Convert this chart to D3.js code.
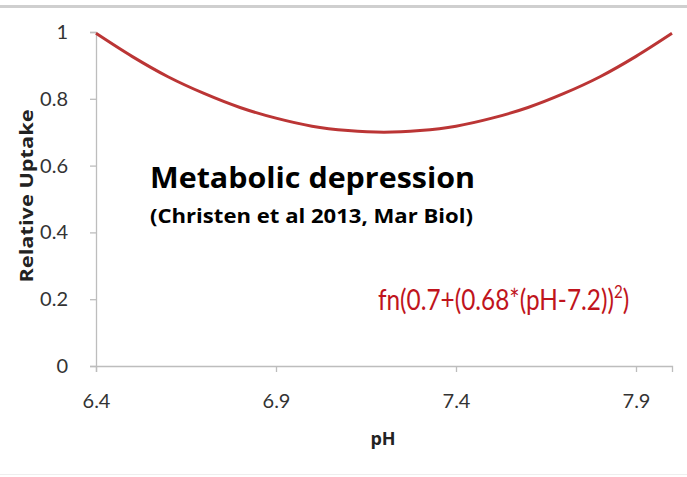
<!DOCTYPE html>
<html>
<head>
<meta charset="utf-8">
<script src="https://cdn.jsdelivr.net/npm/d3@7"></script>
<style>
    body { margin: 0; background: #fff; }
    svg { display: block; font-family: "Open Sans", Lato, sans-serif; }
</style>
</head>
<body>
<svg width="687" height="477"></svg>
<script>
// values
const phValues = [6.4, 6.5, 6.6, 6.7, 6.8, 6.9, 7.0, 7.1, 7.2, 7.3, 7.4, 7.5, 7.6, 7.7, 7.8, 7.9, 8.0];
const uptakeValues = [0.996, 0.927, 0.866, 0.816, 0.774, 0.742, 0.718, 0.705, 0.700, 0.705, 0.718, 0.742, 0.774, 0.816, 0.866, 0.927, 0.996];
const xTicks = [6.4, 6.9, 7.4, 7.9];
const yTicks = [0, 0.2, 0.4, 0.6, 0.8, 1];

const svg = d3.select("svg");

// frame lines
svg.append("rect").attr("x", 0).attr("y", 5).attr("width", 687).attr("height", 3).attr("fill", "#cfcfcf");
svg.append("rect").attr("x", 0).attr("y", 474).attr("width", 687).attr("height", 1).attr("fill", "#eeeeee");

const x = d3.scaleLinear().domain([6.4, 8.0]).range([96, 672]);
const y = d3.scaleLinear().domain([0, 1]).range([366, 32]);

const xAxis = svg.append("g")
    .attr("transform", `translate(0,${y(0)})`)
    .call(d3.axisBottom(x).tickValues(xTicks).tickFormat(d3.format(".1f")).tickSizeOuter(0).tickSize(6).tickPadding(22));

const yAxis = svg.append("g")
    .attr("transform", `translate(${x(6.4)},0)`)
    .call(d3.axisLeft(y).tickValues(yTicks).tickFormat(d => d).tickSizeOuter(0).tickSize(6).tickPadding(22));

[xAxis, yAxis].forEach(g => {
    g.select(".domain").attr("stroke", "#bdbdbd").attr("stroke-width", 1.3);
    g.selectAll(".tick line").attr("stroke", "#bdbdbd").attr("stroke-width", 1.3);
    g.selectAll(".tick text")
        .attr("fill", "#333")
        .style("font-family", "Lato, sans-serif")
        .style("font-size", "20px");
});

const line = d3.line()
    .x((d, i) => x(phValues[i]))
    .y(d => y(d))
    .curve(d3.curveCatmullRom);

svg.append("path")
    .datum(uptakeValues)
    .attr("d", line)
    .attr("fill", "none")
    .attr("stroke", "#bb3535")
    .attr("stroke-width", 3);

// axis titles
svg.append("text")
    .attr("x", 383).attr("y", 445)
    .attr("text-anchor", "middle")
    .attr("font-weight", "bold")
    .attr("font-size", 18)
    .attr("fill", "#222")
    .text("pH");

svg.append("text")
    .attr("transform", "translate(33,196) rotate(-90)")
    .attr("text-anchor", "middle")
    .attr("font-weight", "bold")
    .attr("font-size", 17)
    .attr("fill", "#222")
    .attr("textLength", 173)
    .attr("lengthAdjust", "spacingAndGlyphs")
    .text("Relative Uptake");

// annotations
svg.append("text")
    .attr("x", 150).attr("y", 188)
    .attr("font-weight", "bold")
    .attr("font-size", 28)
    .attr("fill", "#000")
    .attr("textLength", 325)
    .attr("lengthAdjust", "spacingAndGlyphs")
    .text("Metabolic depression");

svg.append("text")
    .attr("x", 150).attr("y", 223)
    .attr("font-weight", "bold")
    .attr("font-size", 19.5)
    .attr("fill", "#000")
    .attr("textLength", 323)
    .attr("lengthAdjust", "spacingAndGlyphs")
    .text("(Christen et al 2013, Mar Biol)");

const fn = svg.append("g")
    .attr("transform", "translate(378,310) scale(0.84,1)")
    .append("text")
    .style("font-family", "Lato, sans-serif")
    .attr("font-size", 29)
    .attr("fill", "#c0141c");
fn.append("tspan").text("fn(0.7+(0.68*(pH-7.2))");
fn.append("tspan").attr("dy", -12).attr("font-size", 18).text("2");
fn.append("tspan").attr("dy", 12).text(")");
</script>
</body>
</html>
